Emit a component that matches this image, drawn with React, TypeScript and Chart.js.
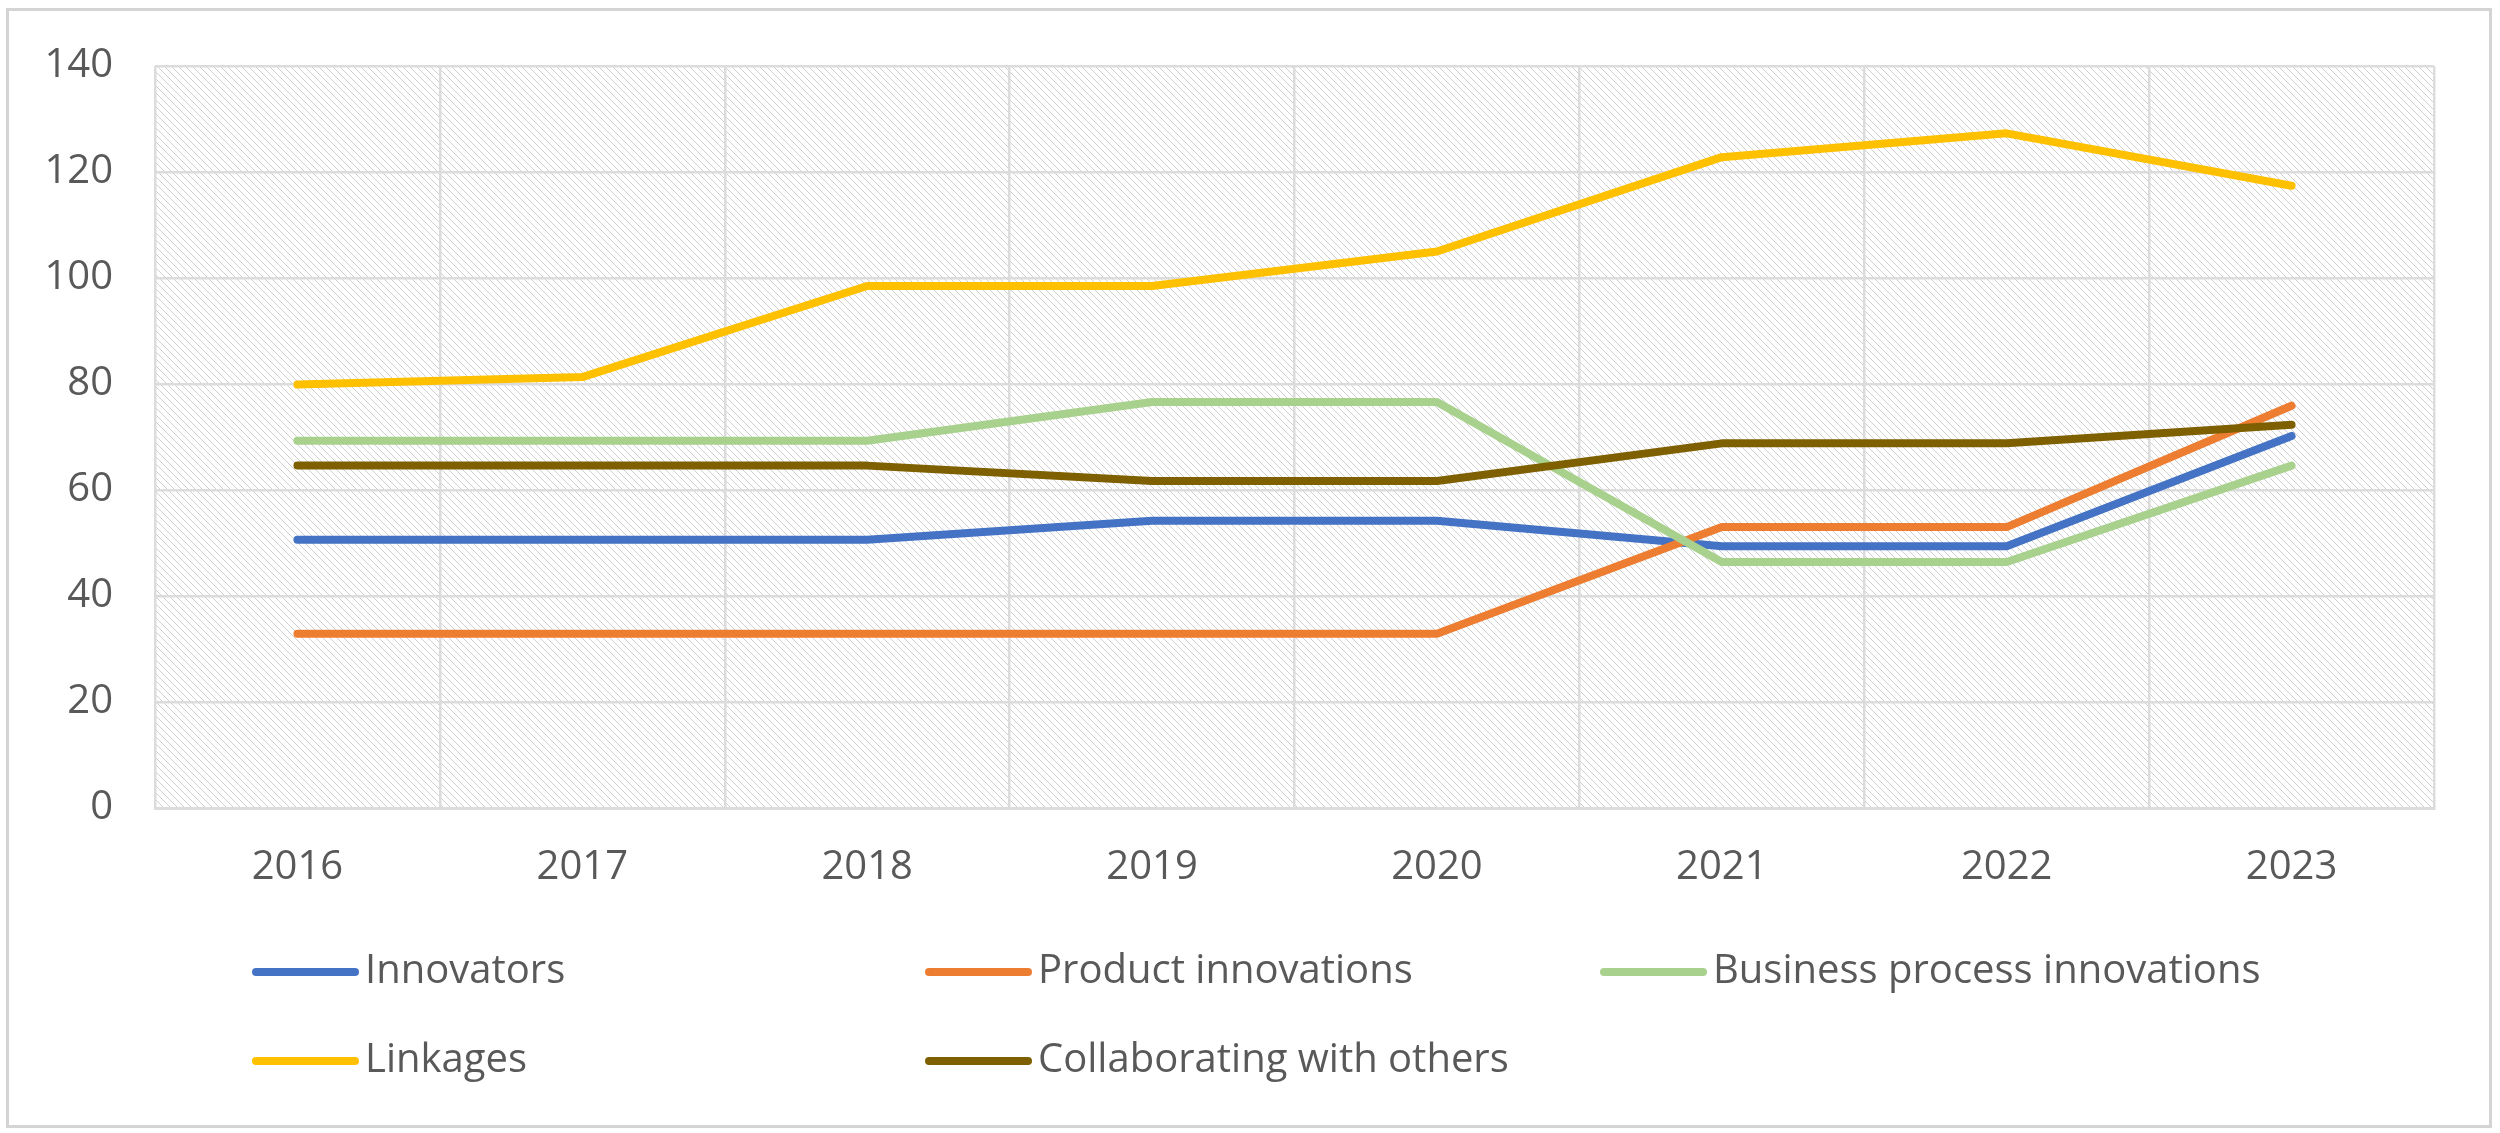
import { useEffect, useRef } from 'react';
import { Chart, registerables } from 'chart.js';

Chart.register(...registerables);

const years = ['2016', '2017', '2018', '2019', '2020', '2021', '2022', '2023'];
const innovators = [50.6, 50.6, 50.6, 54.2, 54.2, 49.4, 49.4, 70.2];
const productInnovations = [32.9, 32.9, 32.9, 32.9, 32.9, 53.0, 53.0, 75.9];
const businessProcess = [69.3, 69.3, 69.3, 76.6, 76.6, 46.4, 46.4, 64.6];
const linkages = [79.9, 81.3, 98.5, 98.5, 105.0, 122.8, 127.3, 117.4];
const collaborating = [64.6, 64.6, 64.6, 61.7, 61.7, 68.8, 68.8, 72.3];

const seriesNames = ['Innovators', 'Product innovations', 'Business process innovations', 'Linkages', 'Collaborating with others'];
const seriesData = [innovators, productInnovations, businessProcess, linkages, collaborating];
const seriesColors = ['#4472C4', '#ED7D31', '#A9D18E', '#FFC000', '#7F6000'];

const FONT = '"Open Sans", sans-serif';
const TEXT = '#595959';
const GRID = '#dcdcdc';

function makeHatch(): CanvasPattern | string {
  const s = 7;
  const c = document.createElement('canvas');
  c.width = s; c.height = s;
  const g = c.getContext('2d');
  if (!g) return '#eeeeee';
  g.fillStyle = '#ffffff';
  g.fillRect(0, 0, s, s);
  g.strokeStyle = '#cfcfcf';
  g.lineWidth = 1;
  g.beginPath();
  g.moveTo(-1, -1); g.lineTo(s + 1, s + 1);
  g.moveTo(-1, s - 1); g.lineTo(1, s + 1);
  g.moveTo(s - 1, -1); g.lineTo(s + 1, 1);
  g.stroke();
  return g.createPattern(c, 'repeat') || '#eeeeee';
}

const hatchPlugin = {
  id: 'hatch',
  beforeDraw(chart: Chart) {
    const { ctx, chartArea: a } = chart;
    ctx.save();
    ctx.fillStyle = makeHatch();
    ctx.fillRect(a.left, a.top, a.right - a.left, a.bottom - a.top);
    ctx.restore();
  },
};

// excel style legend in fixed columns
const legendPlugin = {
  id: 'colLegend',
  afterDraw(chart: Chart) {
    const { ctx } = chart;
    const cols = [252, 925, 1600];
    const rows = [972, 1061];
    ctx.save();
    ctx.font = `40px ${FONT}`;
    ctx.textBaseline = 'middle';
    ctx.fillStyle = TEXT;
    chart.data.datasets.forEach((ds, i) => {
      const x = cols[i % 3];
      const y = rows[Math.floor(i / 3)];
      ctx.strokeStyle = ds.borderColor as string;
      ctx.lineWidth = 8;
      ctx.lineCap = 'round';
      ctx.beginPath();
      ctx.moveTo(x + 4, y);
      ctx.lineTo(x + 103, y);
      ctx.stroke();
      ctx.fillText(ds.label || '', x + 113, y);
    });
    ctx.restore();
  },
};

function LineChart() {
  const ref = useRef<HTMLCanvasElement>(null);
  const chartRef = useRef<Chart | null>(null);

  useEffect(() => {
    if (!ref.current) return;
    chartRef.current?.destroy();
    chartRef.current = new Chart(ref.current, {
      type: 'line',
      data: {
        labels: years,
        datasets: seriesData.map((d, i) => ({
          label: seriesNames[i],
          data: d,
          borderColor: seriesColors[i],
          backgroundColor: seriesColors[i],
          borderWidth: 8,
          pointRadius: 0,
          tension: 0,
          borderJoinStyle: 'round' as const,
          borderCapStyle: 'round' as const,
          order: seriesData.length - i,
        })),
      },
      options: {
        responsive: false,
        animation: false,
        layout: { padding: { top: 63, right: 66, left: 0, bottom: 0 } },
        plugins: { legend: { display: false }, tooltip: { enabled: false } },
        scales: {
          x: {
            offset: true,
            grid: { offset: true, color: GRID, lineWidth: 2.5, drawTicks: false },
            border: { color: GRID, width: 3 },
            ticks: { color: TEXT, font: { family: FONT, size: 40 }, padding: 36, maxRotation: 0 },
            afterFit: (s: any) => { s.height = 1133 - 808; },
          },
          y: {
            min: 0, max: 140,
            ticks: { stepSize: 20, color: TEXT, font: { family: FONT, size: 40 }, padding: 42 },
            grid: { color: GRID, lineWidth: 2.5, drawTicks: false },
            border: { display: false },
            afterFit: (s: any) => { s.width = 155; },
          },
        },
      },
      plugins: [hatchPlugin, legendPlugin],
    });
    return () => { chartRef.current?.destroy(); };
  }, []);

  return <canvas ref={ref} width={2500} height={1133} style={{ position: 'absolute', left: 0, top: 0 }} />;
}

export default function App() {
  useEffect(() => { document.body.style.margin = '0'; }, []);
  return (
    <div style={{ position: 'relative', width: 2500, height: 1133, background: '#fff' }}>
      <LineChart />
      <div style={{
        position: 'absolute', left: 6, top: 8, width: 2486, height: 1120,
        border: '3px solid #d4d4d4', boxSizing: 'border-box', pointerEvents: 'none',
      }} />
    </div>
  );
}
